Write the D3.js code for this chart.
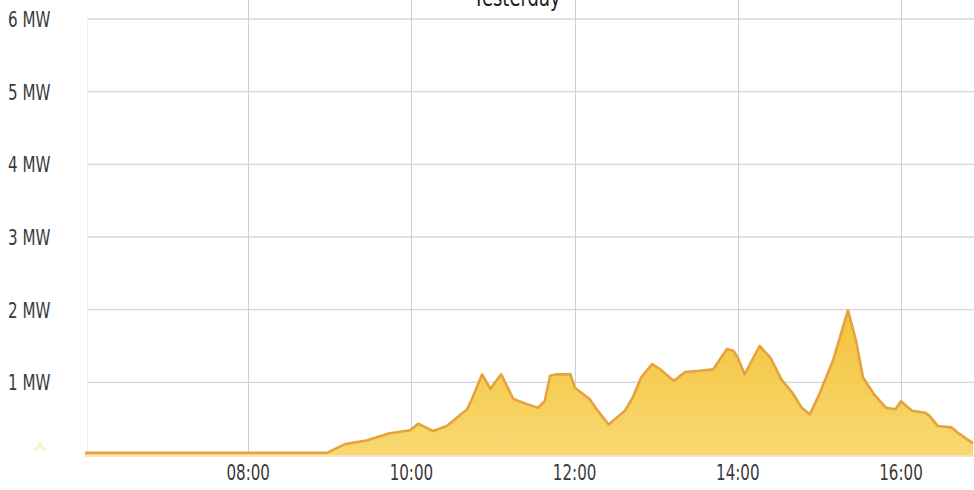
<!DOCTYPE html>
<html><head><meta charset="utf-8">
<script src="https://cdn.jsdelivr.net/npm/d3@7"></script>
<style>html,body{margin:0;padding:0;background:#fff;}svg{display:block;}</style>
</head><body>
<svg id="c" width="974" height="490"></svg>
<script>
const title = "Yesterday";
const times = ["06:00","08:58","09:11","09:27","09:44","09:59","10:05","10:16","10:26","10:41","10:45","10:52","10:58","11:06","11:15","11:25","11:33","11:38","11:42","11:47","11:57","12:00","12:11","12:17","12:25","12:37","12:43","12:49","12:57","13:03","13:13","13:21","13:32","13:42","13:52","13:57","14:00","14:05","14:16","14:24","14:32","14:40","14:47","14:53","15:00","15:10","15:21","15:27","15:32","15:40","15:49","15:56","16:00","16:08","16:18","16:21","16:27","16:37","16:43","16:53"];
const powerMW = [0.03,0.03,0.15,0.20,0.30,0.34,0.43,0.33,0.40,0.63,0.79,1.11,0.91,1.11,0.77,0.70,0.65,0.74,1.09,1.11,1.11,0.93,0.77,0.61,0.42,0.61,0.80,1.07,1.25,1.18,1.02,1.14,1.16,1.18,1.46,1.43,1.34,1.11,1.50,1.34,1.04,0.86,0.65,0.56,0.84,1.30,1.99,1.57,1.07,0.84,0.65,0.63,0.74,0.61,0.58,0.54,0.40,0.38,0.29,0.16];
const yTicks = [1,2,3,4,5,6];
const yTickLabels = ["1 MW","2 MW","3 MW","4 MW","5 MW","6 MW"];
const xTicks = ["08:00","10:00","12:00","14:00","16:00"];

const parse = d3.timeParse("%H:%M");
const data = times.map((t,i)=>({t:parse(t), v:powerMW[i]}));
const svg = d3.select("#c");
const x = d3.scaleTime().domain([parse("06:00"), parse("16:53")]).range([85, 974]);
x.range([85, 85 + (901-85) * (x.domain()[1]-x.domain()[0]) / (parse("16:00")-parse("06:00"))]);
const y = d3.scaleLinear().domain([0,6]).range([455,19]);

const defs = svg.append("defs");
const g = defs.append("linearGradient").attr("id","fillg").attr("gradientUnits","userSpaceOnUse")
  .attr("x1",0).attr("x2",0).attr("y1",y(2)).attr("y2",y(0));
g.append("stop").attr("offset","0%").attr("stop-color","#f3c23c");
g.append("stop").attr("offset","100%").attr("stop-color","#f8d971");

svg.append("g").selectAll("line").data(yTicks).join("line")
  .attr("x1",87).attr("x2",974).attr("y1",d=>y(d)).attr("y2",d=>y(d))
  .attr("stroke","#d6d6d6").attr("stroke-width",1.3);
svg.append("line").attr("x1",87.5).attr("x2",87.5).attr("y1",y(6)).attr("y2",y(0))
  .attr("stroke","#f0f0f0");
svg.append("g").selectAll("line").data(xTicks).join("line")
  .attr("x1",d=>Math.round(x(parse(d)))+0.5).attr("x2",d=>Math.round(x(parse(d)))+0.5)
  .attr("y1",0).attr("y2",y(0))
  .attr("stroke","#cfcfcf").attr("stroke-width",1);

const area = d3.area().x(d=>x(d.t)).y0(y(0)).y1(d=>y(d.v));
const line = d3.line().x(d=>x(d.t)).y(d=>y(d.v));
svg.append("path").datum(data).attr("d",area).attr("fill","url(#fillg)");
svg.append("line").attr("x1",x(data[0].t)).attr("x2",974).attr("y1",y(0)+1).attr("y2",y(0)+1)
  .attr("stroke","#f3d9b0").attr("stroke-width",1.5);
svg.append("path").datum(data).attr("d",line).attr("fill","none")
  .attr("stroke","#e6a23c").attr("stroke-width",2.6).attr("stroke-linejoin","round");

const font = "'DejaVu Sans', Verdana, sans-serif";
svg.append("g").selectAll("text").data(yTicks).join("text")
  .attr("transform",d=>`translate(8,${y(d)+8}) scale(0.72,1)`)
  .attr("font-family",font).attr("font-size",21).attr("fill","#3a3a3a")
  .text((d,i)=>yTickLabels[i]);
svg.append("g").selectAll("text").data(xTicks).join("text")
  .attr("transform",d=>`translate(${x(parse(d))},${480}) scale(0.72,1)`)
  .attr("text-anchor","middle")
  .attr("font-family",font).attr("font-size",21).attr("fill","#3a3a3a")
  .text(d=>d);
svg.append("text").attr("transform","translate(517,6) scale(0.75,1)")
  .attr("text-anchor","middle").attr("font-family",font).attr("font-size",24).attr("fill","#222")
  .text(title);

svg.append("path").attr("d","M33,451 L40,441 L47,451 L43,451 L40,447 L37,451 Z")
  .attr("fill","#f5ecc6").attr("opacity",0.7);
</script>
</body></html>
